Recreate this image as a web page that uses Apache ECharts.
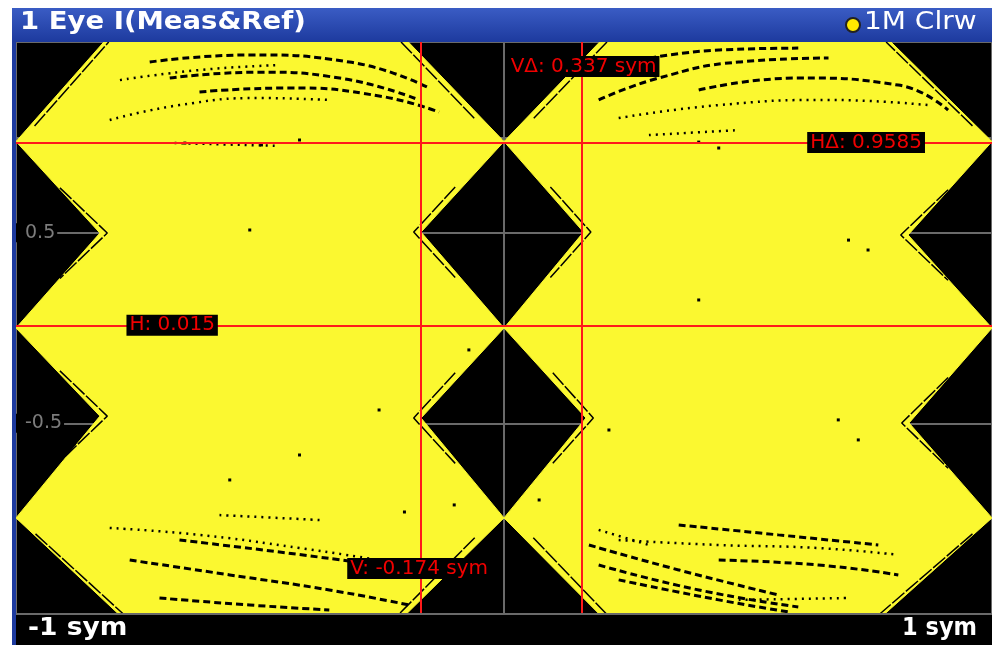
<!DOCTYPE html>
<html>
  <head>
    <meta charset="utf-8" />
    <title>1 Eye I(Meas&amp;Ref)</title>
    <script src="https://cdnjs.cloudflare.com/ajax/libs/echarts/6.0.0/echarts.min.js"></script>
  </head>
  <body>
    <style>
      html, body { margin: 0; padding: 0; background: #ffffff; }
      #main { width: 992px; height: 645px; }
    </style>
    <div id="main"></div>
    <script type="text/javascript">
      // eye outline (x in sym, y in normalized level), left and right halves
      var leftEyeX  = [-0.82, -0.196, 0, -0.17, 0, -0.17, 0, -0.2, -0.79, -1, -0.828, -1, -0.828, -1];
      var leftEyeY  = [1.5, 1.5, 0.978, 0.503, 0.0, -0.472, -0.996, -1.5, -1.5, -0.996, -0.462, 0.0, 0.498, 0.978];
      var rightEyeX = [0.196, 0.793, 1, 0.828, 1, 0.83, 1, 0.78, 0.195, 0, 0.168, 0, 0.163, 0];
      var rightEyeY = [1.5, 1.5, 0.978, 0.488, 0.0, -0.498, -0.996, -1.5, -1.5, -0.996, -0.472, 0.0, 0.503, 0.978];

      // marker readouts
      var vCursors = [-0.174, 0.163];
      var hCursors = [0.015, 0.9735];
      var readouts = ['V: -0.174 sym', 'V\u0394: 0.337 sym', 'H: 0.015', 'H\u0394: 0.9585'];
      var yTickLabels = ['0.5', '-0.5'];

      // black traces inside the yellow area, as (x, y) pairs
      var dotTraces = [
        [[-0.808, 1.091], [-0.665, 1.169], [-0.501, 1.206], [-0.358, 1.196]],
        [[-0.787, 1.30], [-0.624, 1.353], [-0.46, 1.379]],
        [[-0.675, 0.97], [-0.46, 0.955]],
        [[0.235, 1.101], [0.44, 1.169], [0.665, 1.196], [0.869, 1.169]],
        [[0.297, 1.012], [0.481, 1.038]],
        [[-0.808, -1.049], [-0.624, -1.085], [-0.419, -1.154], [-0.256, -1.217]],
        [[-0.583, -0.981], [-0.378, -1.007]],
        [[0.235, -1.112], [0.44, -1.138], [0.644, -1.154], [0.808, -1.19]],
        [[0.194, -1.059], [0.297, -1.138]],
        [[0.481, -1.426], [0.706, -1.416]]
      ];
      var dashTraces = [
        [[-0.726, 1.395], [-0.521, 1.432], [-0.317, 1.395], [-0.153, 1.258]],
        [[-0.685, 1.311], [-0.501, 1.342], [-0.337, 1.311], [-0.174, 1.196]],
        [[-0.624, 1.238], [-0.44, 1.259], [-0.256, 1.217], [-0.133, 1.133]],
        [[0.194, 1.196], [0.317, 1.311], [0.481, 1.395], [0.665, 1.416]],
        [[0.276, 1.405], [0.44, 1.458], [0.603, 1.468]],
        [[0.399, 1.248], [0.603, 1.311], [0.808, 1.274], [0.91, 1.143]],
        [[-0.767, -1.217], [-0.562, -1.295], [-0.358, -1.374], [-0.194, -1.453]],
        [[-0.665, -1.112], [-0.46, -1.175], [-0.256, -1.243]],
        [[-0.706, -1.416], [-0.521, -1.453], [-0.358, -1.479]],
        [[0.174, -1.138], [0.358, -1.269], [0.562, -1.4]],
        [[0.194, -1.243], [0.399, -1.374], [0.603, -1.463]],
        [[0.235, -1.321], [0.44, -1.426], [0.583, -1.489]],
        [[0.358, -1.033], [0.562, -1.085], [0.767, -1.138]],
        [[0.44, -1.217], [0.644, -1.243], [0.808, -1.295]]
      ];
      // traces hugging the envelope edges and the eye corners
      var edgeTraces = [
        [[-0.962, 1.06], [-0.81, 1.5]],
        [[-0.061, 1.1], [-0.211, 1.5]],
        [[0.061, 1.1], [0.211, 1.5]],
        [[0.96, 1.06], [0.783, 1.5]],
        [[-0.96, -1.08], [-0.78, -1.5]],
        [[-0.06, -1.1], [-0.215, -1.5]],
        [[0.06, -1.1], [0.21, -1.5]],
        [[0.96, -1.08], [0.77, -1.5]],
        [[-0.10, 0.74], [-0.185, 0.503], [-0.10, 0.265]],
        [[0.095, 0.74], [0.178, 0.503], [0.095, 0.265]],
        [[-0.10, -0.235], [-0.185, -0.472], [-0.10, -0.71]],
        [[0.10, -0.235], [0.183, -0.472], [0.10, -0.71]],
        [[-0.91, 0.735], [-0.813, 0.498], [-0.91, 0.26]],
        [[-0.91, -0.225], [-0.813, -0.462], [-0.91, -0.70]],
        [[0.91, 0.725], [0.813, 0.488], [0.91, 0.25]],
        [[0.91, -0.26], [0.815, -0.498], [0.91, -0.735]]
      ];
      var strayDots = [
        [-0.654, 0.97], [-0.497, 0.96], [-0.419, 0.986], [-0.072, -0.115], [-0.256, -0.43],
        [-0.419, -0.666], [-0.102, -0.928], [-0.204, -0.965], [0.399, 0.975], [0.44, 0.944],
        [0.706, 0.461], [0.746, 0.409], [0.685, -0.482], [0.726, -0.587], [0.072, -0.902],
        [0.215, -0.535], [-0.521, 0.514], [-0.562, -0.797], [0.399, 0.147]
      ];

      var chart = echarts.init(document.getElementById('main'));
      var YELLOW = '#fbf830';
      var RED = '#ff1a1a';
      var FONT = '"DejaVu Sans", Verdana, sans-serif';

      function polySeries(xs, ys) {
        var pts = xs.map(function (x, i) { return [x, ys[i]]; });
        return {
          type: 'custom',
          coordinateSystem: 'cartesian2d',
          clip: true,
          silent: true,
          z: 2,
          data: [pts[0]],
          renderItem: function (params, api) {
            return {
              type: 'polygon',
              shape: { points: pts.map(function (p) { return api.coord(p); }) },
              style: { fill: YELLOW, stroke: YELLOW, lineWidth: 1 }
            };
          }
        };
      }

      var series = [polySeries(leftEyeX, leftEyeY), polySeries(rightEyeX, rightEyeY)];

      function traceSeries(list, width, dash, smooth) {
        list.forEach(function (s) {
          series.push({
            type: 'line', data: s, smooth: smooth, symbol: 'none', silent: true, z: 3,
            lineStyle: { color: '#000', width: width, type: dash }
          });
        });
      }
      traceSeries(dotTraces, 2.5, [2, 5], true);
      traceSeries(dashTraces, 3, [7, 4], true);
      traceSeries(edgeTraces, 1.5, [16, 2], false);

      series.push({
        type: 'scatter', data: strayDots, symbol: 'rect', symbolSize: [3, 3],
        silent: true, z: 3, itemStyle: { color: '#000', opacity: 1 }
      });

      // cursor lines
      series.push({
        type: 'line',
        data: [],
        z: 5,
        silent: true,
        markLine: {
          symbol: 'none',
          silent: true,
          animation: false,
          label: { show: false },
          lineStyle: { color: RED, width: 2, type: 'solid' },
          data: [
            { xAxis: vCursors[0] }, { xAxis: vCursors[1] },
            { yAxis: hCursors[0] }, { yAxis: hCursors[1] }
          ]
        }
      });

      // cursor readouts
      series.push({
        type: 'scatter',
        symbolSize: 0,
        silent: true,
        z: 6,
        itemStyle: { opacity: 1 },
        data: [
          { value: [vCursors[0], -1.262], name: readouts[0] },
          { value: [vCursors[1], 1.372], name: readouts[1] },
          { value: [-0.68, hCursors[0]], name: readouts[2] },
          { value: [0.742, hCursors[1]], name: readouts[3] }
        ],
        label: {
          show: true, position: 'inside', formatter: '{b}', color: '#f00000',
          backgroundColor: '#000', padding: [1, 3, 0, 3], opacity: 1,
          fontFamily: FONT, fontSize: 20
        }
      });

      var option = {
        backgroundColor: '#ffffff',
        animation: false,
        grid: { left: 16, top: 42, width: 978, height: 572, backgroundColor: '#000', show: true, borderWidth: 0 },
        xAxis: {
          type: 'value', min: -1, max: 1, interval: 1,
          axisLine: { show: false }, axisTick: { show: false }, axisLabel: { show: false },
          splitLine: { show: true, lineStyle: { color: '#6a6a6a', width: 2 } }
        },
        yAxis: {
          type: 'value', min: -1.5, max: 1.5, interval: 0.5,
          axisLine: { show: false }, axisTick: { show: false },
          axisLabel: {
            inside: true, margin: 0, color: '#7c7c7c', fontFamily: FONT, fontSize: 19,
            backgroundColor: '#000', padding: [0, 2, 0, 9],
            formatter: function (v) { return yTickLabels.indexOf(String(v)) >= 0 ? String(v) : ''; }
          },
          splitLine: { show: true, lineStyle: { color: '#6a6a6a', width: 2 } }
        },
        graphic: [
          { type: 'rect', shape: { x: 12, y: 8, width: 980, height: 34 }, z: 10,
            style: { fill: new echarts.graphic.LinearGradient(0, 0, 0, 1, [
              { offset: 0, color: '#3a5cc4' }, { offset: 1, color: '#1d3a9e' }]) } },
          { type: 'text', x: 20, y: 10, scaleX: 1.1, z: 11,
            style: { text: '1 Eye I(Meas&Ref)', fill: '#fff', font: 'bold 25px ' + FONT } },
          { type: 'circle', shape: { cx: 853, cy: 25, r: 7 }, z: 11,
            style: { fill: '#ffea00', stroke: '#222', lineWidth: 2 } },
          { type: 'text', x: 864, y: 10, scaleX: 1.12, z: 11,
            style: { text: '1M Clrw', fill: '#fff', font: '25px ' + FONT } },
          { type: 'rect', shape: { x: 12, y: 42, width: 4, height: 603 }, z: 10, style: { fill: '#1d3a9e' } },
          { type: 'rect', shape: { x: 16, y: 614, width: 976, height: 31 }, z: 10, style: { fill: '#000' } },
          { type: 'line', shape: { x1: 16, y1: 614, x2: 992, y2: 614 }, z: 11, style: { stroke: '#6a6a6a', lineWidth: 2 } },
          { type: 'text', x: 28, y: 616, scaleX: 1.06, z: 11,
            style: { text: '-1 sym', fill: '#fff', font: 'bold 25px ' + FONT } },
          { type: 'text', x: 902, y: 616, scaleX: 0.9, z: 11,
            style: { text: '1 sym', fill: '#fff', font: 'bold 25px ' + FONT } }
        ],
        series: series
      };
      chart.setOption(option);
    </script>
  </body>
</html>
